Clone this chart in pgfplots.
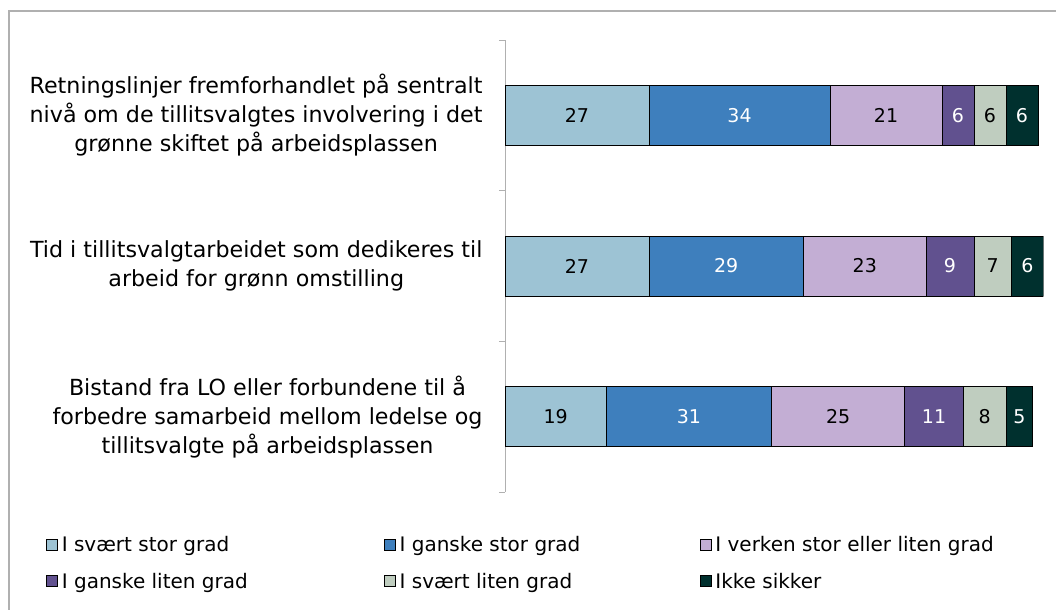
\documentclass[border=0pt]{standalone}
\usepackage{pgfplots}
\pgfplotsset{compat=1.18}
\usepackage{fontspec}
\setmainfont{DejaVu Sans}
\definecolor{c1}{HTML}{9DC3D4}
\definecolor{c2}{HTML}{3E7FBD}
\definecolor{c3}{HTML}{C3AED4}
\definecolor{c4}{HTML}{61518F}
\definecolor{c5}{HTML}{BFCDBF}
\definecolor{c6}{HTML}{00302E}
\definecolor{axgray}{HTML}{B0B0B0}
\begin{document}
\begin{tikzpicture}
\path[use as bounding box] (0,0) rectangle (1056bp,610bp);
\draw[color=axgray, line width=1.5bp] (9bp,0) -- (9bp,599bp) -- (1056bp,599bp);
\begin{axis}[
  at={(505bp,118bp)}, anchor=south west,
  scale only axis, width=538.3bp, height=452bp,
  xbar stacked, bar width=60bp,
  xmin=0, xmax=101,
  ymin=-0.5, ymax=2.5, y dir=reverse,
  axis x line=none,
  axis y line*=left,
  y axis line style={draw=axgray, line width=1bp},
  ytick={-0.5,0.5,1.5,2.5}, yticklabels={},
  major tick length=6bp,
  tick style={draw=axgray, line width=1bp},
  tick align=outside,
  extra y ticks={0,1,2},
  extra y tick labels={
    {Retningslinjer fremforhandlet på sentralt\\nivå om de tillitsvalgtes involvering i det\\grønne skiftet på arbeidsplassen},
    {Tid i tillitsvalgtarbeidet som dedikeres til\\arbeid for grønn omstilling},
    {Bistand fra LO eller forbundene til å\\forbedre samarbeid mellom ledelse og\\tillitsvalgte på arbeidsplassen}},
  extra y tick style={major tick length=0pt, tick label style={align=center, font=\fontsize{22.2bp}{29bp}\selectfont, xshift=-19bp}},
  nodes near coords={\pgfmathprintnumber[assume math mode=true]{\pgfplotspointmeta}},
  every node near coord/.append style={anchor=center, font=\fontsize{19bp}{20bp}\selectfont},
  legend columns=3,
  legend style={at={(-0.853,-0.093)}, anchor=north west, draw=none, fill=none,
    font=\fontsize{20bp}{22bp}\selectfont,
    row sep=16bp, inner sep=0pt,
    /tikz/every odd column/.append style={column sep=2bp}},
  legend cell align=left,
  legend image code/.code={\draw[#1, draw=black, line width=0.8bp] (0bp,-5.5bp) rectangle (11bp,5.5bp);},
]
\addplot[fill=c1, draw=black, line width=0.6bp] coordinates {(27,0) (27,1) (19,2)};
\addplot[fill=c2, draw=black, line width=0.6bp, every node near coord/.append style={text=white}] coordinates {(34,0) (29,1) (31,2)};
\addplot[fill=c3, draw=black, line width=0.6bp] coordinates {(21,0) (23,1) (25,2)};
\addplot[fill=c4, draw=black, line width=0.6bp, every node near coord/.append style={text=white}] coordinates {(6,0) (9,1) (11,2)};
\addplot[fill=c5, draw=black, line width=0.6bp] coordinates {(6,0) (7,1) (8,2)};
\addplot[fill=c6, draw=black, line width=0.6bp, every node near coord/.append style={text=white}] coordinates {(6,0) (6,1) (5,2)};
\legend{\makebox[320bp][l]{I svært stor grad},\makebox[298bp][l]{I ganske stor grad},I verken stor eller liten grad,\makebox[320bp][l]{I ganske liten grad},\makebox[298bp][l]{I svært liten grad},Ikke sikker}
\end{axis}
\end{tikzpicture}
\end{document}
